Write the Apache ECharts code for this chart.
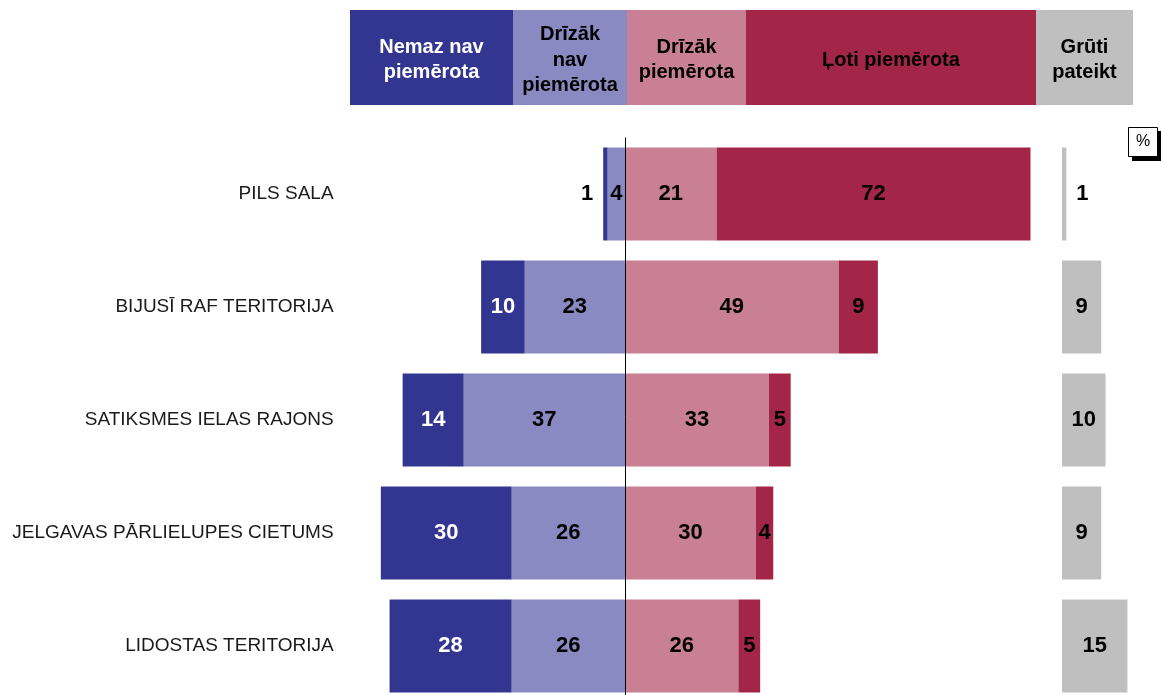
<!DOCTYPE html>
<html><head><meta charset="utf-8">
<script src="https://cdn.jsdelivr.net/npm/echarts@6/dist/echarts.min.js"></script>
<style>html,body{margin:0;padding:0;background:#fff}#c{width:1161px;height:695px}</style>
</head><body><div id="c"></div>
<script>
// ---- data ----
const categories = ['PILS SALA', 'BIJUSĪ RAF TERITORIJA', 'SATIKSMES IELAS RAJONS', 'JELGAVAS PĀRLIELUPES CIETUMS', 'LIDOSTAS TERITORIJA'];
const nemazNav = [1, 10, 14, 30, 28];
const drizakNav = [4, 23, 37, 26, 26];
const drizakPiemerota = [21, 49, 33, 30, 26];
const lotiPiemerota = [72, 9, 5, 4, 5];
const grutiPateikt = [1, 9, 10, 9, 15];
const headerLabels = ['Nemaz nav\npiemērota', 'Drīzāk\nnav\npiemērota', 'Drīzāk\npiemērota', 'Ļoti piemērota', 'Grūti\npateikt'];

const FONT = '"Liberation Sans", Arial, Helvetica, sans-serif';
const colors = ['#323690', '#8A8AC2', '#C98094', '#A32648', '#BFBFBF'];

const chart = echarts.init(document.getElementById('c'), null, {renderer: 'canvas'});

function mk(arr, sign, outsidePos) {
  return arr.map(v => {
    const d = {value: sign * v};
    if (v <= 1) d.label = {position: outsidePos, distance: 10};
    return d;
  });
}

const labelBase = {
  show: true, position: 'inside', fontFamily: FONT, fontWeight: 'bold', fontSize: 22, color: '#000',
  formatter: p => Math.abs(p.value)
};

const BW = 93;

// header graphics (layout only)
const hdrX = [350, 513, 627, 746, 1036, 1133];
const hdrTextColor = ['#fff', '#000', '#000', '#000', '#000'];
const graphic = [];
for (let i = 0; i < 5; i++) {
  graphic.push({type: 'rect', shape: {x: hdrX[i], y: 10, width: hdrX[i + 1] - hdrX[i], height: 95}, style: {fill: colors[i]}, silent: true});
  graphic.push({type: 'text', x: (hdrX[i] + hdrX[i + 1]) / 2, y: 60, style: {text: headerLabels[i], fill: hdrTextColor[i], font: 'bold 20px ' + FONT, align: 'center', verticalAlign: 'middle', lineHeight: 25.5}, silent: true});
}
graphic.push({type: 'rect', shape: {x: 1132, y: 131, width: 30, height: 30}, style: {fill: '#000'}, silent: true});
graphic.push({type: 'rect', shape: {x: 1128.5, y: 127.5, width: 29, height: 29}, style: {fill: '#fff', stroke: '#000', lineWidth: 1}, silent: true});
graphic.push({type: 'text', x: 1143, y: 142, style: {text: '%', fill: '#000', font: '16px ' + FONT, align: 'center', verticalAlign: 'middle'}, silent: true});

const PX = 4.36;
const option = {
  animation: false,
  backgroundColor: '#fff',
  graphic: graphic,
  grid: [
    {left: 625 - 65 * PX, top: 137.5, width: 160 * PX, height: 565, containLabel: false, outerBoundsMode: 'none'},
    {left: 1062, top: 137.5, width: 20 * PX, height: 565, containLabel: false, outerBoundsMode: 'none'}
  ],
  xAxis: [
    {type: 'value', gridIndex: 0, min: -65, max: 95, show: false, splitLine: {show: false}},
    {type: 'value', gridIndex: 1, min: 0, max: 20, show: false, splitLine: {show: false}}
  ],
  yAxis: [
    {type: 'category', gridIndex: 0, data: categories, inverse: true,
     axisLine: {show: false}, axisTick: {show: false},
     axisLabel: {fontFamily: FONT, fontSize: 19, color: '#1a1a1a', margin: 8}},
    {type: 'category', gridIndex: 1, data: categories, inverse: true, show: false}
  ],
  series: [
    {name: 'Drīzāk nav piemērota', type: 'bar', stack: 'a', barWidth: BW, xAxisIndex: 0, yAxisIndex: 0,
     itemStyle: {color: colors[1]}, label: Object.assign({}, labelBase), data: mk(drizakNav, -1, 'left'),
     markLine: {silent: true, symbol: ['none', 'none'], label: {show: false}, lineStyle: {color: '#000', width: 1, type: 'solid'}, data: [{xAxis: 0}]}},
    {name: 'Nemaz nav piemērota', type: 'bar', stack: 'a', barWidth: BW, xAxisIndex: 0, yAxisIndex: 0,
     itemStyle: {color: colors[0]}, label: Object.assign({}, labelBase, {color: '#fff'}), data: mk(nemazNav, -1, 'left').map((d, i) => { if (nemazNav[i] <= 1) d.label.color = '#000'; return d; })},
    {name: 'Drīzāk piemērota', type: 'bar', stack: 'a', barWidth: BW, xAxisIndex: 0, yAxisIndex: 0,
     itemStyle: {color: colors[2]}, label: Object.assign({}, labelBase), data: mk(drizakPiemerota, 1, 'right')},
    {name: 'Ļoti piemērota', type: 'bar', stack: 'a', barWidth: BW, xAxisIndex: 0, yAxisIndex: 0,
     itemStyle: {color: colors[3]}, label: Object.assign({}, labelBase), data: mk(lotiPiemerota, 1, 'right')},
    {name: 'Grūti pateikt', type: 'bar', barWidth: BW, xAxisIndex: 1, yAxisIndex: 1,
     itemStyle: {color: colors[4]}, label: Object.assign({}, labelBase), data: mk(grutiPateikt, 1, 'right')}
  ]
};
chart.setOption(option);
</script>
</body></html>
